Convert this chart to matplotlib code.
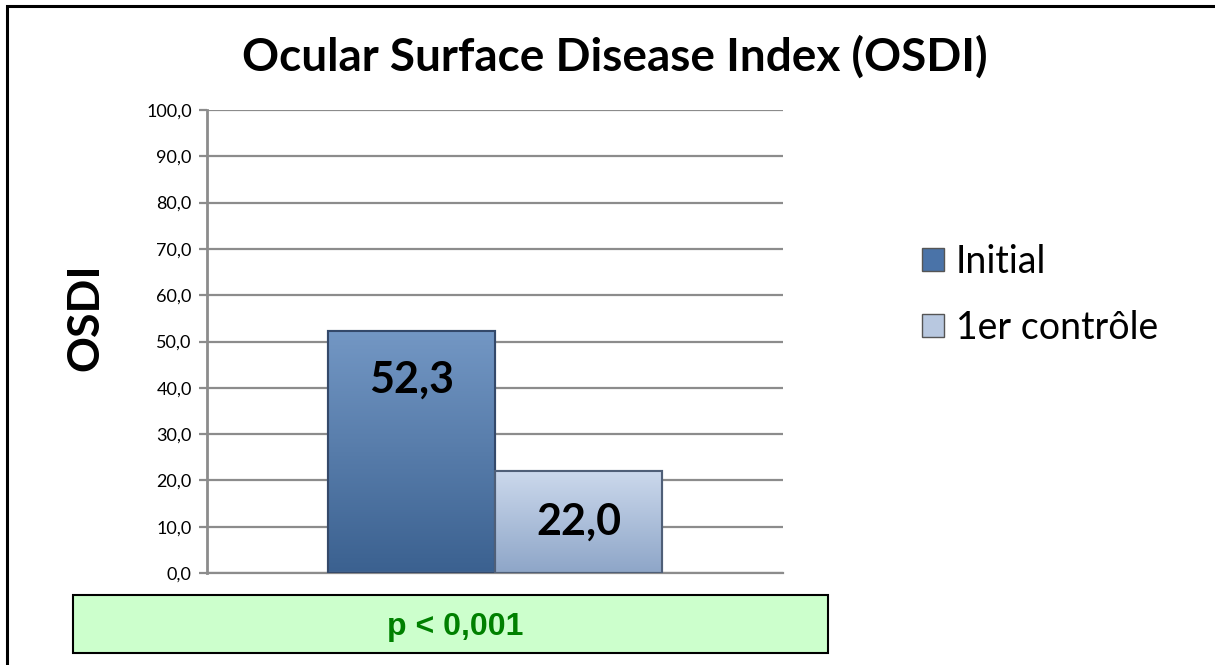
import numpy as np
import matplotlib.pyplot as plt
from matplotlib.patches import Rectangle
from matplotlib.colors import LinearSegmentedColormap
from matplotlib.ticker import FuncFormatter

# données
series = ['Initial', '1er contrôle']
values = [52.3, 22.0]
value_labels = ['52,3', '22,0']
p_text = 'p < 0,001'

W, H = 12.15, 6.65
fig = plt.figure(figsize=(W, H), dpi=100)
plt.rcParams['font.family'] = ['Lato', 'DejaVu Sans']

# cadre noir autour
fig.add_artist(Rectangle((7 / 1215, -0.05), 1.2, 1 - 6 / 665 + 0.05, transform=fig.transFigure,
                         fill=False, edgecolor='black', linewidth=2.2))

ax = fig.add_axes([207 / 1215, 1 - 573 / 665, 576 / 1215, 463 / 665])
ax.set_xlim(-0.5, 0.5)
ax.set_ylim(0, 100)

ax.set_yticks(np.arange(0, 101, 10))
ax.yaxis.set_major_formatter(FuncFormatter(lambda v, p: f'{v:.1f}'.replace('.', ',')))
ax.grid(axis='y', color='#8c8c8c', linewidth=1.6, zorder=0)
ax.set_axisbelow(True)
ax.set_xticks([])
for s in ['top', 'right']:
    ax.spines[s].set_visible(False)
ax.spines['left'].set_color('#8c8c8c')
ax.spines['left'].set_linewidth(2)
ax.spines['bottom'].set_color('#8c8c8c')
ax.spines['bottom'].set_linewidth(1.6)
ax.tick_params(axis='y', length=6, width=1.6, color='#8c8c8c', labelsize=13, pad=5)

ax.set_ylabel('OSDI', fontsize=32, fontweight='bold')
ax.yaxis.set_label_coords(-0.177, 0.553)

width = 0.29
offsets = [-width / 2, width / 2]
grads = [('#7397c4', '#3b6190'), ('#cbd8ec', '#8ea6c8')]
edges = ['#34496a', '#4f5f78']
for i, (name, v) in enumerate(zip(series, values)):
    bar = ax.bar(offsets[i], v, width, color=grads[i][0], edgecolor=edges[i],
                 linewidth=1.5, label=name, zorder=2)[0]
    cmap = LinearSegmentedColormap.from_list('g', [grads[i][1], grads[i][0]])
    x0 = offsets[i] - width / 2
    im = ax.imshow(np.linspace(0, 1, 100).reshape(-1, 1), cmap=cmap, aspect='auto',
                   extent=[x0, x0 + width, 0, v], origin='lower', zorder=2.5)
    im.set_clip_path(bar)
    ax.add_patch(Rectangle((x0, 0), width, v, fill=False, edgecolor=edges[i],
                           linewidth=1.5, zorder=3))

ax.text(offsets[0], values[0] - 10.5, value_labels[0], ha='center', va='center',
        fontsize=31, fontweight='bold', zorder=4)
ax.text(offsets[1], values[1] - 11, value_labels[1], ha='center', va='center',
        fontsize=31, fontweight='bold', zorder=4)
ax.set_aspect('auto')

handles = [Rectangle((0, 0), 1, 1, facecolor=c[1], edgecolor='#555555') for c in grads]
handles[0].set_facecolor('#4a73a8')
handles[1].set_facecolor('#b8c8e0')
fig.legend(handles, series, loc='upper left', bbox_to_anchor=(888 / 1215, 1 - 210 / 665),
           frameon=False, fontsize=27, handlelength=0.6, handleheight=0.6,
           handletextpad=0.3, labelspacing=0.8)

fig.text(615 / 1215, 1 - 57 / 665, 'Ocular Surface Disease Index (OSDI)', ha='center',
         va='center', fontsize=33, fontweight='bold')

# encadré p-value
fig.add_artist(Rectangle((73 / 1215, 1 - 653 / 665), 755 / 1215, 58 / 665,
                         transform=fig.transFigure, facecolor='#ccffcc',
                         edgecolor='black', linewidth=1.5))
fig.text(455 / 1215, 1 - 627 / 665, p_text, ha='center', va='center',
         fontsize=23, fontweight='bold', color='#008000',
         family=['Liberation Sans Narrow', 'Liberation Sans', 'DejaVu Sans'])

fig.savefig('out.png', dpi=100)
